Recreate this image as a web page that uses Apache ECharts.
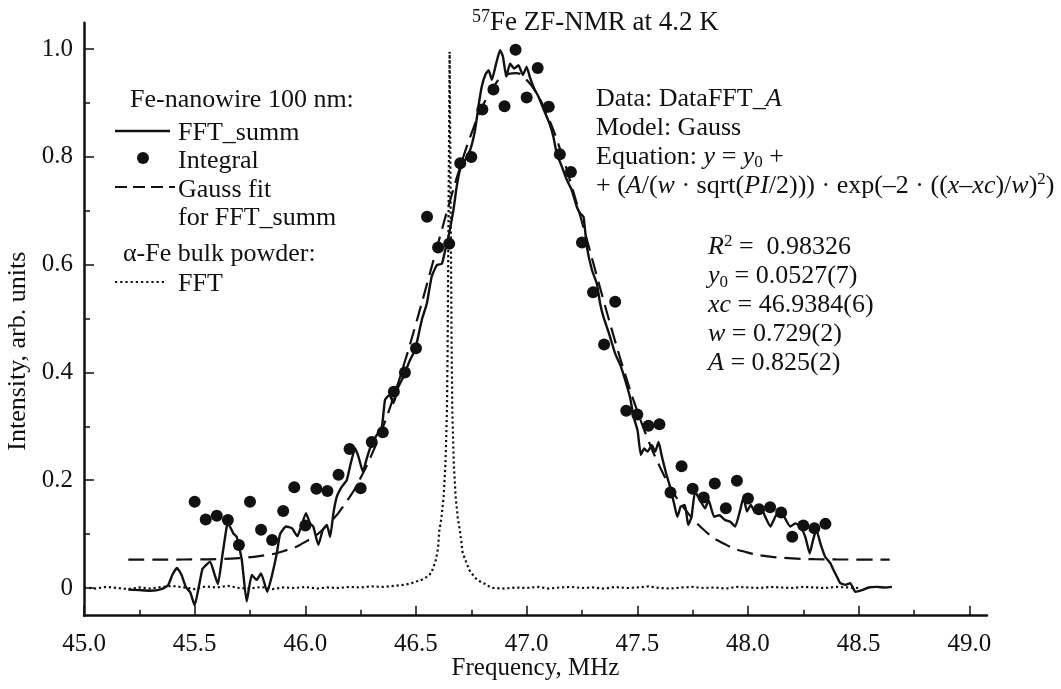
<!DOCTYPE html>
<html>
<head>
<meta charset="utf-8">
<script src="https://cdn.jsdelivr.net/npm/echarts@6/dist/echarts.min.js"></script>
<style>
  html, body { margin: 0; padding: 0; background: #fff; }
  #chart { width: 1061px; height: 689px; }
</style>
</head>
<body>
<div id="chart"></div>
<script>
// tick positions
const freqMajor = [45.0, 45.5, 46.0, 46.5, 47.0, 47.5, 48.0, 48.5, 49.0]
const freqMinor = [45.25, 45.75, 46.25, 46.75, 47.25, 47.75, 48.25, 48.75]
const intMajor = [0, 0.2, 0.4, 0.6, 0.8, 1.0]
const intMinor = [0.1, 0.3, 0.5, 0.7, 0.9]

// Fe-nanowire 100 nm, integral points [MHz, intensity]
const integral = [
  [45.50, 0.160], [45.55, 0.127], [45.60, 0.134], [45.65, 0.126], [45.70, 0.080],
  [45.75, 0.160], [45.80, 0.108], [45.85, 0.089], [45.90, 0.143], [45.95, 0.187],
  [46.00, 0.116], [46.05, 0.184], [46.10, 0.180], [46.15, 0.210], [46.20, 0.258],
  [46.25, 0.185], [46.30, 0.271], [46.35, 0.289], [46.40, 0.364], [46.45, 0.400],
  [46.50, 0.445], [46.55, 0.689], [46.60, 0.632], [46.65, 0.639], [46.70, 0.788],
  [46.75, 0.800], [46.80, 0.888], [46.85, 0.925], [46.90, 0.894], [46.95, 0.999],
  [47.00, 0.910], [47.05, 0.965], [47.10, 0.893], [47.15, 0.805], [47.20, 0.772],
  [47.25, 0.641], [47.30, 0.549], [47.35, 0.452], [47.40, 0.531], [47.45, 0.329],
  [47.50, 0.322], [47.55, 0.301], [47.60, 0.304], [47.65, 0.177], [47.70, 0.226],
  [47.75, 0.184], [47.80, 0.168], [47.85, 0.194], [47.90, 0.148], [47.95, 0.199],
  [48.00, 0.166], [48.05, 0.146], [48.10, 0.150], [48.15, 0.140], [48.20, 0.095],
  [48.25, 0.116], [48.30, 0.111], [48.35, 0.119]
]

// FFT_summ trace
const fftSumm = [
  [45.20, -0.003], [45.25, -0.004], [45.30, -0.005], [45.35, -0.002], [45.38, 0.005],
  [45.40, 0.025], [45.42, 0.037], [45.44, 0.025], [45.46, 0.002], [45.48, -0.008],
  [45.50, -0.032], [45.52, 0.005], [45.535, 0.035], [45.55, 0.042], [45.57, 0.049],
  [45.59, 0.025], [45.605, 0.007], [45.625, 0.060], [45.645, 0.114], [45.652, 0.119],
  [45.675, 0.101], [45.69, 0.095], [45.713, 0.052], [45.735, -0.025], [45.758, 0.024],
  [45.78, 0.015], [45.80, 0.027], [45.828, -0.007], [45.848, 0.021], [45.871, 0.064],
  [45.886, 0.100], [45.913, 0.114], [45.939, 0.111], [45.964, 0.096], [45.984, 0.118],
  [46.003, 0.139], [46.021, 0.120], [46.036, 0.114], [46.059, 0.080], [46.079, 0.108],
  [46.097, 0.117], [46.112, 0.095], [46.127, 0.139], [46.142, 0.169], [46.165, 0.188],
  [46.187, 0.200], [46.205, 0.231], [46.225, 0.259], [46.240, 0.244], [46.26, 0.216],
  [46.278, 0.241], [46.30, 0.268], [46.323, 0.284], [46.346, 0.299], [46.36, 0.349],
  [46.38, 0.358], [46.398, 0.343], [46.42, 0.373], [46.443, 0.392], [46.473, 0.423],
  [46.496, 0.442], [46.526, 0.497], [46.549, 0.528], [46.571, 0.578], [46.594, 0.599],
  [46.617, 0.602], [46.632, 0.627], [46.647, 0.652], [46.669, 0.701], [46.684, 0.745],
  [46.699, 0.776], [46.722, 0.794], [46.745, 0.813], [46.767, 0.850], [46.782, 0.893],
  [46.797, 0.930], [46.813, 0.952], [46.828, 0.961], [46.843, 0.943], [46.862, 0.973],
  [46.88, 0.998], [46.893, 0.986], [46.908, 0.949], [46.925, 0.973], [46.943, 0.964],
  [46.963, 0.970], [46.983, 0.952], [47.00, 0.967], [47.016, 0.946], [47.034, 0.927],
  [47.053, 0.912], [47.069, 0.896], [47.084, 0.881], [47.103, 0.862], [47.121, 0.837],
  [47.136, 0.806], [47.159, 0.782], [47.182, 0.757], [47.204, 0.738], [47.227, 0.707],
  [47.242, 0.695], [47.257, 0.689], [47.272, 0.633], [47.295, 0.590], [47.317, 0.565],
  [47.332, 0.528], [47.347, 0.503], [47.370, 0.475], [47.385, 0.455], [47.40, 0.435],
  [47.423, 0.414], [47.445, 0.386], [47.468, 0.352], [47.483, 0.318], [47.501, 0.293],
  [47.516, 0.247], [47.531, 0.259], [47.546, 0.253], [47.566, 0.265], [47.581, 0.253],
  [47.596, 0.271], [47.611, 0.244], [47.630, 0.213], [47.648, 0.188], [47.666, 0.157],
  [47.681, 0.132], [47.696, 0.151], [47.715, 0.154], [47.730, 0.117], [47.745, 0.132],
  [47.761, 0.179], [47.783, 0.163], [47.806, 0.148], [47.822, 0.163], [47.847, 0.132],
  [47.871, 0.135], [47.897, 0.126], [47.920, 0.123], [47.942, 0.114], [47.965, 0.145],
  [47.980, 0.169], [47.995, 0.142], [48.013, 0.154], [48.033, 0.139], [48.055, 0.154],
  [48.078, 0.132], [48.101, 0.114], [48.123, 0.132], [48.146, 0.145], [48.168, 0.129],
  [48.191, 0.114], [48.214, 0.120], [48.236, 0.114], [48.259, 0.095], [48.279, 0.064],
  [48.294, 0.089], [48.309, 0.108], [48.327, 0.083], [48.349, 0.058], [48.372, 0.046],
  [48.387, 0.033], [48.402, 0.021], [48.417, 0.009], [48.44, 0.006], [48.462, 0.009],
  [48.485, -0.007], [48.515, -0.004], [48.545, 0.001], [48.582, 0.002], [48.62, 0.001],
  [48.65, 0.002]
]

// Gauss fit for FFT_summ (dashed)
const gaussFit = [
  [45.20, 0.0527], [45.30, 0.0527], [45.40, 0.0528], [45.50, 0.0531], [45.60, 0.0538],
  [45.70, 0.0555], [45.80, 0.0596], [45.90, 0.0683], [46.00, 0.0855], [46.10, 0.1168],
  [46.20, 0.1687], [46.25, 0.2045], [46.30, 0.2475], [46.35, 0.2980], [46.40, 0.3560],
  [46.45, 0.4207], [46.50, 0.4907], [46.55, 0.5645], [46.60, 0.6396], [46.65, 0.7130],
  [46.70, 0.7819], [46.75, 0.8428], [46.80, 0.8930], [46.85, 0.9300], [46.90, 0.9507],
  [46.95, 0.9553], [47.00, 0.9429], [47.05, 0.9144], [47.10, 0.8712], [47.15, 0.8157],
  [47.20, 0.7507], [47.25, 0.6793], [47.30, 0.6047], [47.35, 0.5300], [47.40, 0.4577],
  [47.45, 0.3899], [47.50, 0.3283], [47.55, 0.2737], [47.60, 0.2266], [47.65, 0.1870],
  [47.70, 0.1545], [47.80, 0.1080], [47.90, 0.0805], [48.00, 0.0657], [48.10, 0.0583],
  [48.20, 0.0550], [48.30, 0.0535], [48.40, 0.0530], [48.50, 0.0528], [48.64, 0.0527]
]

// alpha-Fe bulk powder FFT (dotted)
const bulkFft = [
  [45.00, 0.001], [45.05, -0.001], [45.10, 0.002], [45.15, 0.000], [45.20, -0.002],
  [45.25, 0.001], [45.30, -0.001], [45.35, 0.002], [45.40, 0.004], [45.45, 0.001],
  [45.50, -0.002], [45.55, 0.003], [45.60, 0.001], [45.65, 0.004], [45.70, 0.000],
  [45.75, -0.001], [45.80, 0.002], [45.85, -0.002], [45.90, 0.001], [45.95, 0.000],
  [46.00, 0.002], [46.05, -0.001], [46.10, 0.001], [46.15, 0.000], [46.20, 0.002],
  [46.25, 0.001], [46.30, 0.003], [46.35, 0.002], [46.40, 0.004], [46.45, 0.006],
  [46.48, 0.009], [46.50, 0.012], [46.52, 0.014], [46.54, 0.018], [46.56, 0.024],
  [46.57, 0.029], [46.58, 0.040], [46.59, 0.052], [46.60, 0.075], [46.605, 0.105],
  [46.615, 0.130], [46.625, 0.170], [46.633, 0.230], [46.640, 0.330], [46.643, 0.450],
  [46.652, 0.995], [46.661, 0.450], [46.664, 0.330], [46.671, 0.230], [46.679, 0.170],
  [46.689, 0.130], [46.699, 0.105], [46.705, 0.085], [46.71, 0.067], [46.72, 0.055],
  [46.73, 0.045], [46.74, 0.034], [46.75, 0.028], [46.77, 0.018], [46.79, 0.012],
  [46.81, 0.008], [46.83, 0.003], [46.85, 0.000], [46.90, -0.001], [46.95, 0.001],
  [47.00, 0.000], [47.05, 0.002], [47.10, -0.001], [47.15, 0.001], [47.20, 0.002],
  [47.25, 0.000], [47.30, 0.001], [47.35, -0.001], [47.40, 0.002], [47.45, 0.000],
  [47.50, 0.001], [47.55, 0.003], [47.60, 0.000], [47.65, -0.001], [47.70, 0.001],
  [47.75, 0.002], [47.80, 0.000], [47.85, 0.001], [47.90, -0.001], [47.95, 0.002],
  [48.00, 0.001], [48.05, 0.000], [48.10, 0.002], [48.15, 0.001], [48.20, 0.000],
  [48.25, 0.002], [48.30, 0.001], [48.35, 0.000], [48.40, 0.002], [48.45, 0.001],
  [48.50, 0.000]
]

const ink = '#111'
const serif = 'Liberation Serif'

function makeRich(size) {
  const small = Math.round(size * 0.65)
  return {
    i: { fontFamily: serif, fontSize: size, fontStyle: 'italic', color: ink, lineHeight: 29 },
    sub: { fontFamily: serif, fontSize: small, color: ink, lineHeight: 11, verticalAlign: 'bottom' },
    sup: { fontFamily: serif, fontSize: small, color: ink, lineHeight: 15, verticalAlign: 'top' }
  }
}

function textBlock(text, left, top, size, lh) {
  size = size || 26
  return {
    text,
    left,
    top,
    padding: 0,
    textStyle: {
      fontFamily: serif,
      fontSize: size,
      fontWeight: 'normal',
      color: ink,
      lineHeight: lh || 29,
      rich: makeRich(size)
    }
  }
}

const chart = echarts.init(document.getElementById('chart'))

const option = {
  animation: false,
  backgroundColor: '#fff',
  title: [
    textBlock('{sup|57}Fe ZF-NMR at 4.2 K', 472, 8, 27),
    textBlock('Fe-nanowire 100 nm:', 130, 86),
    textBlock('FFT_summ\nIntegral\nGauss fit\nfor FFT_summ', 178, 118.5, 26, 28.5),
    textBlock('\u03b1-Fe bulk powder:', 123, 240),
    textBlock('FFT', 178, 270),
    textBlock('Data: DataFFT_{i|A}\nModel: Gauss\nEquation: {i|y} = {i|y}{sub|0} +\n' +
      '+ ({i|A}/({i|w} \u00b7 sqrt({i|PI}/2))) \u00b7 exp(\u20132 \u00b7 (({i|x}\u2013{i|xc})/{i|w}){sup|2})',
      596, 84.5),
    textBlock('{i|R}{sup|2} =  0.98326\n{i|y}{sub|0} = 0.0527(7)\n{i|xc} = 46.9384(6)\n{i|w} = 0.729(2)\n{i|A} = 0.825(2)',
      708, 233)
  ],
  grid: {
    left: 84,
    right: 74,
    top: 22.7,
    bottom: 73.3,
    containLabel: false,
    outerBoundsMode: 'none'
  },
  xAxis: [{
    type: 'value',
    min: 45,
    max: 49.08,
    position: 'bottom',
    name: 'Frequency, MHz',
    nameLocation: 'middle',
    nameGap: 40,
    nameMoveOverlap: false,
    nameTextStyle: { fontFamily: serif, fontSize: 25, color: ink },
    axisLine: { onZero: false, lineStyle: { color: ink, width: 2.5 } },
    axisTick: { inside: true, length: 10, customValues: freqMajor, lineStyle: { color: ink, width: 1.5 } },
    axisLabel: {
      customValues: freqMajor,
      margin: 16,
      fontFamily: serif,
      fontSize: 25,
      color: ink,
      formatter: v => v.toFixed(1)
    },
    splitLine: { show: false }
  }, {
    type: 'value',
    min: 45,
    max: 49.08,
    position: 'bottom',
    axisLine: { show: false, onZero: false },
    axisTick: { inside: true, length: 6, customValues: freqMinor, lineStyle: { color: ink, width: 1.5 } },
    axisLabel: { show: false },
    splitLine: { show: false }
  }],
  yAxis: [{
    type: 'value',
    min: -0.0514,
    max: 1.049,
    position: 'left',
    name: 'Intensity, arb. units',
    nameLocation: 'middle',
    nameGap: 49,
    // extra right padding pushes the rotated title a little lower, as in the source
    nameTextStyle: { fontFamily: serif, fontSize: 26, color: ink, padding: [0, 64, 0, 0] },
    axisLine: { show: true, onZero: false, lineStyle: { color: ink, width: 2.5 } },
    axisTick: { show: true, inside: true, length: 10, customValues: intMajor, lineStyle: { color: ink, width: 1.5 } },
    axisLabel: {
      customValues: intMajor,
      margin: 11,
      fontFamily: serif,
      fontSize: 25,
      color: ink,
      formatter: v => (v === 0 ? '0' : v.toFixed(1))
    },
    splitLine: { show: false }
  }, {
    type: 'value',
    min: -0.0514,
    max: 1.049,
    position: 'left',
    axisLine: { show: false, onZero: false },
    axisTick: { show: true, inside: true, length: 6, customValues: intMinor, lineStyle: { color: ink, width: 1.5 } },
    axisLabel: { show: false },
    splitLine: { show: false }
  }],
  graphic: [
    // legend keys
    { type: 'line', shape: { x1: 115, y1: 131, x2: 170, y2: 131 }, style: { stroke: ink, lineWidth: 2.5 } },
    { type: 'circle', shape: { cx: 143, cy: 158, r: 6 }, style: { fill: ink } },
    { type: 'line', shape: { x1: 115, y1: 187, x2: 175, y2: 187 }, style: { stroke: ink, lineWidth: 2, lineDash: [12, 6] } },
    { type: 'line', shape: { x1: 115, y1: 282, x2: 165, y2: 282 }, style: { stroke: ink, lineWidth: 2.2, lineDash: [2.2, 3] } }
  ],
  series: [{
    name: 'FFT',
    type: 'line',
    data: bulkFft,
    showSymbol: false,
    lineStyle: { color: ink, width: 2.2, type: [2.2, 2.8] }
  }, {
    name: 'Gauss fit',
    type: 'line',
    data: gaussFit,
    smooth: true,
    showSymbol: false,
    lineStyle: { color: ink, width: 2.2, type: [16, 8] }
  }, {
    name: 'FFT_summ',
    type: 'line',
    data: fftSumm,
    smooth: 0.15,
    showSymbol: false,
    lineStyle: { color: ink, width: 2.4 }
  }, {
    name: 'Integral',
    type: 'scatter',
    data: integral,
    symbolSize: 12,
    itemStyle: { color: ink, opacity: 1 }
  }]
}

chart.setOption(option)
</script>
</body>
</html>
